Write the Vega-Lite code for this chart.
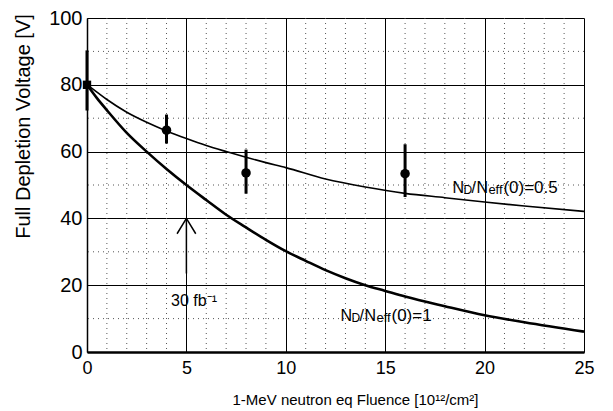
{
  "$schema": "https://vega.github.io/schema/vega-lite/v6.json",
  "width": 497,
  "height": 334,
  "autosize": {"type": "none"},
  "padding": {"left": 87, "top": 18, "right": 29, "bottom": 59},
  "background": "white",
  "config": {
    "view": {"stroke": null},
    "font": "Liberation Sans",
    "text": {"font": "Liberation Sans", "color": "black"}
  },
  "datasets": {
    "curves": [
      {"fluence": 0, "voltage": 80, "series": "0.5"},
      {"fluence": 0.5, "voltage": 77.8, "series": "0.5"},
      {"fluence": 1, "voltage": 75.6, "series": "0.5"},
      {"fluence": 2, "voltage": 71.8, "series": "0.5"},
      {"fluence": 3, "voltage": 68.8, "series": "0.5"},
      {"fluence": 4, "voltage": 66.2, "series": "0.5"},
      {"fluence": 5, "voltage": 63.9, "series": "0.5"},
      {"fluence": 6, "voltage": 61.8, "series": "0.5"},
      {"fluence": 7, "voltage": 60.0, "series": "0.5"},
      {"fluence": 8, "voltage": 58.3, "series": "0.5"},
      {"fluence": 9, "voltage": 56.7, "series": "0.5"},
      {"fluence": 10, "voltage": 55.2, "series": "0.5"},
      {"fluence": 12, "voltage": 51.8, "series": "0.5"},
      {"fluence": 14, "voltage": 49.4, "series": "0.5"},
      {"fluence": 16, "voltage": 47.5, "series": "0.5"},
      {"fluence": 18, "voltage": 46.2, "series": "0.5"},
      {"fluence": 20, "voltage": 44.9, "series": "0.5"},
      {"fluence": 22, "voltage": 43.7, "series": "0.5"},
      {"fluence": 25, "voltage": 42.1, "series": "0.5"},
      {"fluence": 0, "voltage": 80, "series": "1"},
      {"fluence": 0.5, "voltage": 76.0, "series": "1"},
      {"fluence": 1, "voltage": 72.4, "series": "1"},
      {"fluence": 2, "voltage": 65.6, "series": "1"},
      {"fluence": 3, "voltage": 60.0, "series": "1"},
      {"fluence": 4, "voltage": 54.8, "series": "1"},
      {"fluence": 5, "voltage": 50.0, "series": "1"},
      {"fluence": 6, "voltage": 45.5, "series": "1"},
      {"fluence": 7, "voltage": 41.1, "series": "1"},
      {"fluence": 8, "voltage": 37.3, "series": "1"},
      {"fluence": 9, "voltage": 33.6, "series": "1"},
      {"fluence": 10, "voltage": 30.2, "series": "1"},
      {"fluence": 11, "voltage": 27.3, "series": "1"},
      {"fluence": 12, "voltage": 24.5, "series": "1"},
      {"fluence": 13, "voltage": 22.1, "series": "1"},
      {"fluence": 14, "voltage": 20.0, "series": "1"},
      {"fluence": 15, "voltage": 18.3, "series": "1"},
      {"fluence": 16, "voltage": 16.6, "series": "1"},
      {"fluence": 18, "voltage": 13.7, "series": "1"},
      {"fluence": 20, "voltage": 11.0, "series": "1"},
      {"fluence": 22, "voltage": 8.9, "series": "1"},
      {"fluence": 25, "voltage": 6.1, "series": "1"}
    ],
    "measurements": [
      {"fluence": 0, "voltage": 80, "lo": 72.3, "hi": 90.3, "shape": "square"},
      {"fluence": 4, "voltage": 66.4, "lo": 62.4, "hi": 71.1, "shape": "circle"},
      {"fluence": 8, "voltage": 53.6, "lo": 47.4, "hi": 60.6, "shape": "circle"},
      {"fluence": 16, "voltage": 53.4, "lo": 46.4, "hi": 62.2, "shape": "circle"}
    ],
    "arrow": [
      {"seg": "shaft", "i": 0, "fluence": 5, "voltage": 23.5},
      {"seg": "shaft", "i": 1, "fluence": 5, "voltage": 40},
      {"seg": "head", "i": 0, "fluence": 4.53, "voltage": 35.4},
      {"seg": "head", "i": 1, "fluence": 5, "voltage": 40},
      {"seg": "head", "i": 2, "fluence": 5.47, "voltage": 35.4}
    ],
    "minorX": [
      {"v": 1}, {"v": 2}, {"v": 3}, {"v": 4}, {"v": 6}, {"v": 7}, {"v": 8}, {"v": 9},
      {"v": 11}, {"v": 12}, {"v": 13}, {"v": 14}, {"v": 16}, {"v": 17}, {"v": 18}, {"v": 19},
      {"v": 21}, {"v": 22}, {"v": 23}, {"v": 24}
    ],
    "minorY": [
      {"v": 10}, {"v": 30}, {"v": 50}, {"v": 70}, {"v": 90}
    ],
    "labels": [
      {"fluence": 18.38, "voltage": 49.2, "rest": "(0)=0.5"},
      {"fluence": 12.75, "voltage": 10.7, "rest": "(0)=1"}
    ],
    "note": [
      {"fluence": 4.23, "voltage": 15.2, "text": "30 fb⁻¹"}
    ]
  },
  "layer": [
    {
      "data": {"name": "minorX"},
      "mark": {"type": "rule", "color": "#555555", "strokeWidth": 1, "strokeDash": [1, 4]},
      "encoding": {
        "x": {"field": "v", "type": "quantitative"}
      }
    },
    {
      "data": {"name": "minorY"},
      "mark": {"type": "rule", "color": "#555555", "strokeWidth": 1, "strokeDash": [1, 4]},
      "encoding": {
        "y": {"field": "v", "type": "quantitative"}
      }
    },
    {
      "data": {"name": "curves"},
      "mark": {"type": "line", "color": "black", "interpolate": "monotone"},
      "encoding": {
        "x": {
          "field": "fluence", "type": "quantitative",
          "scale": {"domain": [0, 25], "nice": false},
          "axis": {
            "title": "1-MeV neutron eq Fluence [10¹²/cm²]",
            "values": [0, 5, 10, 15, 20, 25],
            "labelOverlap": false,
            "labelFlush": false,
            "labelFont": "Liberation Sans",
            "labelFontSize": 18,
            "labelColor": "black",
            "labelPadding": 7,
            "ticks": false,
            "tickSize": 0,
            "domainColor": "black",
            "domainWidth": 2.5,
            "grid": true,
            "gridColor": "black",
            "gridWidth": 1,
            "gridOpacity": 1,
            "titleFont": "Liberation Sans",
            "titleFontSize": 15,
            "titleFontWeight": "normal",
            "titleColor": "black",
            "titleAlign": "center",
            "titleBaseline": "alphabetic",
            "titleX": 268,
            "titleY": 52
          }
        },
        "y": {
          "field": "voltage", "type": "quantitative",
          "scale": {"domain": [0, 100], "nice": false},
          "axis": {
            "title": "Full Depletion Voltage [V]",
            "values": [0, 20, 40, 60, 80, 100],
            "labelOverlap": false,
            "labelFlush": false,
            "labelFont": "Liberation Sans",
            "labelFontSize": 20,
            "labelColor": "black",
            "labelPadding": 5,
            "ticks": false,
            "tickSize": 0,
            "domainColor": "black",
            "domainWidth": 1.5,
            "grid": true,
            "gridColor": "black",
            "gridWidth": 1,
            "gridOpacity": 1,
            "titleFont": "Liberation Sans",
            "titleFontSize": 20,
            "titleFontWeight": "normal",
            "titleColor": "black",
            "titleAngle": -90,
            "titleAlign": "center",
            "titleBaseline": "middle",
            "titleX": -64,
            "titleY": 108
          }
        },
        "detail": {"field": "series"},
        "strokeWidth": {"field": "series", "type": "nominal", "scale": {"domain": ["0.5", "1"], "range": [1.6, 2.6]}, "legend": null}
      }
    },
    {
      "data": {"name": "measurements"},
      "mark": {"type": "rule", "color": "black", "strokeWidth": 3},
      "encoding": {
        "x": {"field": "fluence", "type": "quantitative"},
        "y": {"field": "lo", "type": "quantitative"},
        "y2": {"field": "hi"}
      }
    },
    {
      "data": {"name": "measurements"},
      "mark": {"type": "point", "filled": true, "color": "black", "opacity": 1},
      "encoding": {
        "x": {"field": "fluence", "type": "quantitative"},
        "y": {"field": "voltage", "type": "quantitative"},
        "shape": {"field": "shape", "type": "nominal", "scale": {"domain": ["circle", "square"], "range": ["circle", "square"]}, "legend": null},
        "size": {"field": "shape", "type": "nominal", "scale": {"domain": ["circle", "square"], "range": [90, 70]}, "legend": null}
      }
    },
    {
      "data": {"name": "arrow"},
      "mark": {"type": "line", "color": "black", "strokeWidth": 1.5},
      "encoding": {
        "x": {"field": "fluence", "type": "quantitative"},
        "y": {"field": "voltage", "type": "quantitative"},
        "detail": {"field": "seg"},
        "order": {"field": "i", "type": "quantitative"}
      }
    },
    {
      "data": {"name": "note"},
      "mark": {"type": "text", "align": "left", "baseline": "middle", "fontSize": 16},
      "encoding": {
        "x": {"field": "fluence", "type": "quantitative"},
        "y": {"field": "voltage", "type": "quantitative"},
        "text": {"field": "text"}
      }
    },
    {
      "data": {"name": "labels"},
      "mark": {"type": "text", "align": "left", "baseline": "middle", "fontSize": 16, "text": "N", "dx": 0},
      "encoding": {
        "x": {"field": "fluence", "type": "quantitative"},
        "y": {"field": "voltage", "type": "quantitative"}
      }
    },
    {
      "data": {"name": "labels"},
      "mark": {"type": "text", "align": "left", "baseline": "middle", "fontSize": 12, "text": "D", "dx": 11, "dy": 2},
      "encoding": {
        "x": {"field": "fluence", "type": "quantitative"},
        "y": {"field": "voltage", "type": "quantitative"}
      }
    },
    {
      "data": {"name": "labels"},
      "mark": {"type": "text", "align": "left", "baseline": "middle", "fontSize": 16, "text": "/", "dx": 19},
      "encoding": {
        "x": {"field": "fluence", "type": "quantitative"},
        "y": {"field": "voltage", "type": "quantitative"}
      }
    },
    {
      "data": {"name": "labels"},
      "mark": {"type": "text", "align": "left", "baseline": "middle", "fontSize": 16, "text": "N", "dx": 24},
      "encoding": {
        "x": {"field": "fluence", "type": "quantitative"},
        "y": {"field": "voltage", "type": "quantitative"}
      }
    },
    {
      "data": {"name": "labels"},
      "mark": {"type": "text", "align": "left", "baseline": "middle", "fontSize": 13, "text": "eff", "dx": 36, "dy": 2},
      "encoding": {
        "x": {"field": "fluence", "type": "quantitative"},
        "y": {"field": "voltage", "type": "quantitative"}
      }
    },
    {
      "data": {"name": "labels"},
      "mark": {"type": "text", "align": "left", "baseline": "middle", "fontSize": 17, "dx": 51},
      "encoding": {
        "x": {"field": "fluence", "type": "quantitative"},
        "y": {"field": "voltage", "type": "quantitative"},
        "text": {"field": "rest"}
      }
    }
  ]
}
